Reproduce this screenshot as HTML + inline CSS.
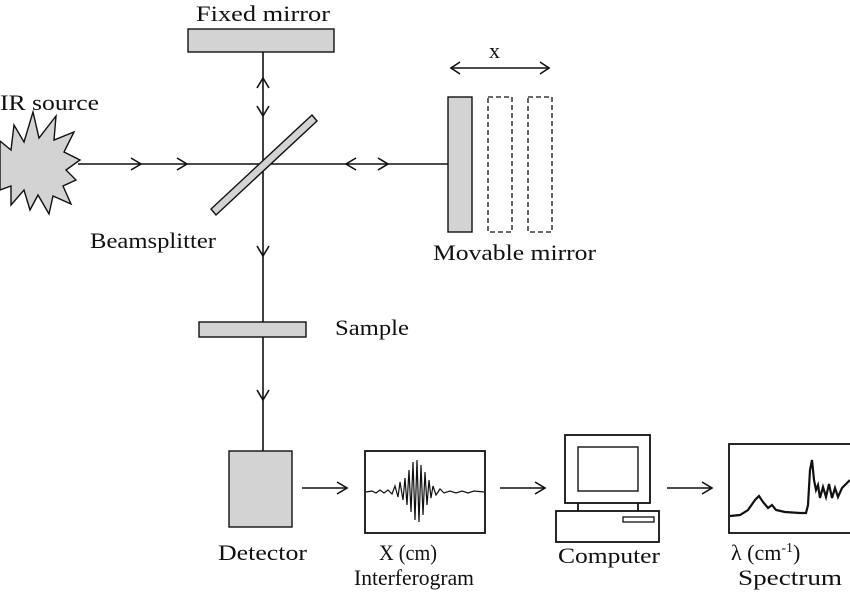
<!DOCTYPE html>
<html><head><style>body{margin:0;background:#fff}svg{display:block}text{font-family:"Liberation Serif",serif;font-size:22px;fill:#111}</style></head><body>
<svg width="850" height="598" viewBox="0 0 850 598" xmlns="http://www.w3.org/2000/svg">
<g stroke="#111" stroke-width="1.6" fill="none">
<line x1="263" y1="52" x2="263" y2="451"/>
<line x1="78" y1="164" x2="449" y2="164"/>
<polyline points="131,158 141,164 131,170"/>
<polyline points="177,158 187,164 177,170"/>
<polyline points="356,158 346,164 356,170"/>
<polyline points="378,158 388,164 378,170"/>
<polyline points="257,88 263,78 269,88"/>
<polyline points="257,106 263,116 269,106"/>
<polyline points="257,246 263,256 269,246"/>
<polyline points="257,390 263,400 269,390"/>
<line x1="451" y1="68" x2="549" y2="68"/>
<polyline points="460,62 451,68 460,74"/>
<polyline points="540,62 549,68 540,74"/>
<line x1="302" y1="488" x2="346" y2="488"/>
<polyline points="337,482 347,488 337,494"/>
<line x1="500" y1="488" x2="544" y2="488"/>
<polyline points="535,482 545,488 535,494"/>
<line x1="667" y1="488" x2="711" y2="488"/>
<polyline points="702,482 712,488 702,494"/>
</g>
<g stroke="#111" stroke-width="1.4" fill="#d3d3d3">
<rect x="188" y="29" width="146" height="23"/>
<polygon points="211,209 216,215 317,121 312,115"/>
<rect x="448" y="97" width="24" height="135"/>
<rect x="199" y="322" width="107" height="15"/>
<rect x="229" y="451" width="63" height="76"/>
<polygon points="0,141 11,150 14,125 24,142 33,112 39,138 56,116 54,140 74,132 64,152 80,160 66,170 76,180 63,186 71,204 53,196 49,214 38,195 30,210 24,190 11,205 11,186 0,190"/>
</g>
<g stroke="#111" stroke-width="1.3" fill="none" stroke-dasharray="5,3">
<rect x="488" y="97" width="24" height="135"/>
<rect x="528" y="97" width="24" height="135"/>
</g>
<g stroke="#111" stroke-width="1.8" fill="#fff">
<rect x="365" y="451" width="120" height="82"/>
<rect x="565" y="435" width="85" height="68"/>
<rect x="578" y="447" width="60" height="44" stroke-width="1.4"/>
<rect x="556" y="511" width="103" height="31"/>
<rect x="623" y="517" width="31" height="5" stroke-width="1.3"/>
<line x1="578" y1="503" x2="578" y2="511"/>
<line x1="638" y1="503" x2="638" y2="511"/>
<rect x="729" y="444" width="125" height="89"/>
</g>
<polyline fill="none" stroke="#111" stroke-width="1.2" points="366,492 372,491 376,493 380,490 384,493 388,490 392,494 395,486 398,497 400,482 403,500 405,478 407,505 409,470 411,512 413,462 415,520 417,460 419,522 421,465 423,515 425,472 427,505 429,480 431,498 433,486 436,495 440,489 444,493 450,491 456,493 462,491 468,493 474,491 484,492"/>
<polyline fill="none" stroke="#111" stroke-width="2.2" points="730,516 740,515 748,510 755,500 759,496 763,502 768,508 772,505 776,510 785,512 800,513 806,513 808,505 810,470 812,460 814,480 816,490 818,485 820,498 823,487 826,497 829,484 832,498 835,488 838,497 842,488 850,480"/>
<text x="196" y="21" textLength="134" lengthAdjust="spacingAndGlyphs">Fixed mirror</text>
<text x="0" y="110" textLength="99" lengthAdjust="spacingAndGlyphs">IR source</text>
<text x="489" y="58" font-size="19">x</text>
<text x="90" y="248" textLength="126" lengthAdjust="spacingAndGlyphs">Beamsplitter</text>
<text x="433" y="260" textLength="163" lengthAdjust="spacingAndGlyphs">Movable mirror</text>
<text x="335" y="335" textLength="74" lengthAdjust="spacingAndGlyphs">Sample</text>
<text x="218" y="560" textLength="89" lengthAdjust="spacingAndGlyphs">Detector</text>
<text x="379" y="560" textLength="58" lengthAdjust="spacingAndGlyphs">X (cm)</text>
<text x="354" y="585" textLength="120" lengthAdjust="spacingAndGlyphs">Interferogram</text>
<text x="558" y="563" textLength="102" lengthAdjust="spacingAndGlyphs">Computer</text>
<text x="731" y="560">λ (cm<tspan dy="-8" font-size="14">-1</tspan><tspan dy="8">)</tspan></text>
<text x="738" y="585" textLength="104" lengthAdjust="spacingAndGlyphs">Spectrum</text>
</svg>
</body></html>
